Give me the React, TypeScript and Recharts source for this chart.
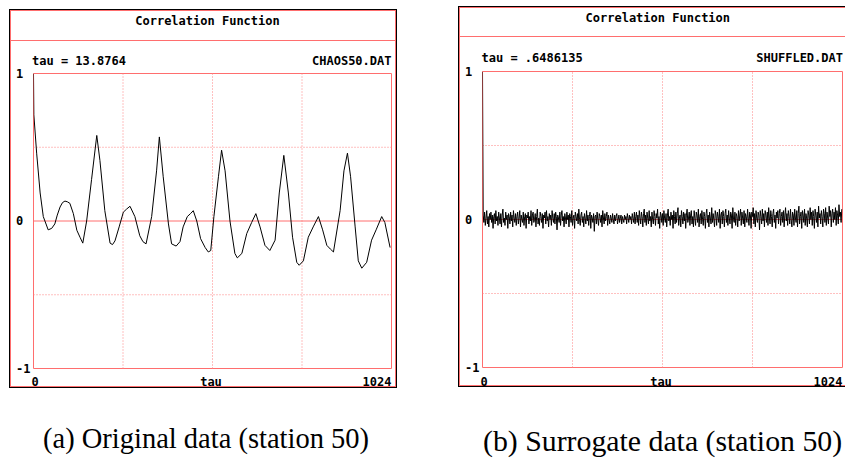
import React from 'react';
import { LineChart, Line, XAxis, YAxis, ReferenceLine, ReferenceArea } from 'recharts';

// Panel (a): correlation function of the original data
const TAU_A = [0, 1, 9, 19, 28, 42, 52, 61, 68, 76, 83, 90, 97, 104, 114, 124, 133, 141, 152, 166, 181, 190, 204, 219, 226, 233, 245, 257, 266, 276, 290, 304, 313, 322, 338, 352, 360, 371, 386, 395, 408, 419, 428, 440, 449, 457, 467, 478, 491, 500, 507, 516, 529, 538, 548, 562, 576, 583, 596, 610, 624, 636, 648, 662, 676, 691, 703, 716, 729, 741, 753, 760, 772, 786, 800, 815, 827, 839, 849, 858, 877, 888, 898, 907, 920, 929, 939, 953, 967, 980, 996, 1005, 1020];
const CORR_A = [1.0, 0.72, 0.46, 0.19, 0.03, -0.06, -0.05, -0.02, 0.04, 0.095, 0.125, 0.135, 0.13, 0.12, 0.05, -0.063, -0.11, -0.15, 0, 0.28, 0.58, 0.41, 0.07, -0.15, -0.16, -0.135, -0.04, 0.06, 0.08, 0.10, 0.03, -0.10, -0.14, -0.155, 0.03, 0.34, 0.57, 0.30, -0.02, -0.155, -0.17, -0.14, -0.04, 0.03, 0.05, 0.07, 0, -0.12, -0.18, -0.21, -0.20, 0.03, 0.30, 0.48, 0.34, 0, -0.22, -0.25, -0.22, -0.085, -0.01, 0.05, -0.04, -0.165, -0.20, -0.13, 0.19, 0.445, 0.19, -0.11, -0.28, -0.30, -0.27, -0.11, -0.04, 0.03, -0.06, -0.165, -0.19, -0.21, 0.07, 0.34, 0.46, 0.30, -0.04, -0.27, -0.32, -0.28, -0.13, -0.06, 0.03, -0.01, -0.18];

// Panel (b): correlation function of the shuffled (surrogate) data, lag step 2
const TAU_STEP_B = 2;
const CORR_B = [
  1.0,
  0.03, -0.02, 0.05, -0.04, 0.01, 0.06, -0.03, 0.02, -0.05, 0.04, 0.00, 0.05, -0.02, 0.03, -0.06, 0.02, 0.04, -0.03, 0.06, -0.01,
  0.02, -0.04, 0.05, 0.01, -0.03, 0.04, -0.05, 0.03, 0.07, -0.02, 0.01, -0.04, 0.05, 0.00, 0.03, -0.06, 0.04, 0.02, -0.03, 0.05,
  -0.01, 0.03, -0.05, 0.06, 0.01, -0.02, 0.04, -0.04, 0.02, 0.05, -0.03, 0.01, 0.06, -0.05, 0.03, 0.00, -0.02, 0.05, -0.04, 0.02,
  0.04, -0.06, 0.03, 0.01, 0.05, -0.03, 0.02, -0.01, 0.06, -0.04, 0.03, 0.05, -0.02, 0.00, 0.04, -0.05, 0.02, 0.07, -0.03, 0.01,
  -0.04, 0.05, 0.02, -0.02, 0.04, -0.06, 0.03, 0.01, 0.05, -0.03, 0.06, -0.01, 0.02, -0.05, 0.04, 0.00, 0.03, -0.04, 0.06, 0.01,
  -0.02, 0.04, -0.03, 0.05, 0.02, -0.07, 0.03, 0.01, -0.02, 0.05, -0.04, 0.03, 0.06, -0.01, 0.02, -0.05, 0.04, 0.01, -0.03, 0.05,
  0.00, 0.03, -0.05, 0.04, 0.02, -0.02, 0.06, -0.04, 0.01, 0.03, -0.06, 0.05, 0.02, -0.01, 0.04, -0.03, 0.07, 0.00, -0.04, 0.03,
  0.05, -0.02, 0.02, -0.05, 0.04, 0.01, -0.03, 0.06, -0.01, 0.03, -0.04, 0.02, 0.05, -0.06, 0.03, 0.01, -0.02, 0.04, -0.08, 0.02,
  0.03, -0.03, 0.05, 0.00, -0.04, 0.04, 0.02, -0.02, 0.03, -0.05, 0.06, 0.01, -0.03, 0.04, -0.01, 0.02, 0.05, -0.04, 0.03, 0.00,
  -0.03, 0.03, 0.01, -0.02, 0.04, 0.00, -0.03, 0.03, -0.01, 0.02, 0.04, -0.03, 0.00, 0.03, -0.02, 0.01, 0.03, -0.03, 0.02, 0.00,
  -0.02, 0.03, 0.00, 0.02, -0.03, 0.04, 0.01, -0.02, 0.03, 0.00, 0.02, -0.03, 0.04, 0.01, -0.02, 0.05, -0.03, 0.02, 0.05, -0.02,
  0.03, -0.04, 0.06, 0.01, -0.03, 0.05, 0.02, -0.05, 0.04, 0.07, -0.02, 0.03, -0.04, 0.05, 0.01, -0.03, 0.06, -0.01, 0.02, -0.05,
  0.05, 0.00, -0.03, 0.06, 0.02, -0.04, 0.04, 0.01, 0.07, -0.03, 0.02, -0.06, 0.05, 0.03, -0.02, 0.04, -0.04, 0.06, 0.01, -0.02,
  0.04, -0.05, 0.03, 0.07, -0.01, 0.02, -0.04, 0.05, 0.00, 0.03, -0.06, 0.06, 0.02, -0.03, 0.05, -0.02, 0.04, 0.08, -0.04, 0.01,
  0.03, -0.05, 0.06, 0.02, -0.03, 0.05, -0.01, 0.04, -0.06, 0.03, 0.07, -0.02, 0.01, 0.05, -0.04, 0.03, 0.06, -0.03, 0.02, -0.05,
  0.06, 0.01, -0.04, 0.05, 0.03, -0.02, 0.07, -0.05, 0.02, 0.04, -0.03, 0.06, 0.00, -0.04, 0.05, 0.02, -0.06, 0.04, 0.07, -0.02,
  0.03, -0.05, 0.05, 0.01, -0.03, 0.08, -0.02, 0.04, 0.00, -0.05, 0.06, 0.03, -0.04, 0.05, 0.02, -0.02, 0.07, -0.06, 0.03, 0.05,
  -0.03, 0.06, 0.02, -0.05, 0.04, 0.07, -0.02, 0.03, -0.04, 0.06, 0.01, -0.03, 0.05, 0.03, -0.06, 0.08, 0.00, -0.02, 0.05, -0.04,
  0.04, 0.02, -0.05, 0.06, -0.01, 0.03, 0.07, -0.04, 0.05, 0.01, -0.03, 0.06, -0.05, 0.04, 0.02, -0.02, 0.07, 0.01, -0.04, 0.05,
  0.03, -0.06, 0.05, 0.02, 0.08, -0.03, 0.04, -0.05, 0.06, 0.01, -0.02, 0.05, 0.03, -0.07, 0.06, 0.02, -0.03, 0.07, -0.01, 0.04,
  -0.05, 0.06, 0.03, -0.02, 0.05, -0.04, 0.08, 0.01, -0.03, 0.06, 0.02, -0.05, 0.04, 0.07, -0.02, 0.03, -0.06, 0.05, 0.01, 0.06,
  -0.03, 0.04, 0.07, -0.04, 0.02, 0.05, -0.02, 0.06, -0.05, 0.03, 0.08, -0.01, 0.04, -0.04, 0.06, 0.02, -0.03, 0.07, 0.00, -0.05,
  0.05, 0.03, -0.04, 0.07, 0.01, -0.02, 0.06, -0.05, 0.04, 0.09, -0.03, 0.02, 0.05, -0.06, 0.06, 0.03, -0.02, 0.07, -0.04, 0.04,
  0.01, -0.05, 0.06, 0.03, -0.03, 0.08, 0.00, 0.05, -0.04, 0.06, 0.02, -0.06, 0.07, 0.03, -0.02, 0.05, -0.05, 0.09, 0.01, 0.04,
  -0.03, 0.06, 0.02, -0.05, 0.07, 0.04, -0.02, 0.08, -0.04, 0.05, 0.01, -0.03, 0.09, 0.02, 0.06, -0.05, 0.04, 0.07, -0.02, 0.05,
  0.00, 0.08, -0.04, 0.06, 0.03, -0.03, 0.10, 0.02, 0.05, -0.02, 0.07,
];

const X_TICKS = [0, 512, 1024];
const X_TICK_LABELS = ['0', 'tau', '1024'];
const Y_TICKS = [1, 0, -1];
const GRID_X = [256, 512, 768];
const GRID_Y = [0.5, -0.5];

const dataA = TAU_A.map((t, i) => ({ tau: t, v: CORR_A[i] }));
const dataB = CORR_B.map((v, i) => ({ tau: i * TAU_STEP_B, v }));

const MONO = '"DejaVu Sans Mono", monospace';
const RED = '#ff6e6e';
const PINK = '#ff8080';

type PanelProps = {
  data: { tau: number; v: number }[];
  left: number;
  top: number;
  width: number;
  height: number;
  marginTop: number;
  marginBottom: number;
  xLabelDy: number;
};

function Panel({ data, left, top, width, height, marginTop, marginBottom, xLabelDy }: PanelProps) {
  const plotBottom = height - 16 - marginBottom;
  const YTick = (p: any) => (
    <text x={6} y={p.y} dominantBaseline="central" textAnchor="start" fontFamily={MONO} fontWeight="bold" fontSize={12} fill="#000">
      {String(p.payload.value)}
    </text>
  );
  const XTick = (p: any) => {
    const idx = X_TICKS.indexOf(p.payload.value);
    const anchor = idx === 0 ? 'start' : idx === 2 ? 'end' : 'middle';
    const dx = idx === 0 ? -2 : idx === 1 ? -1.5 : 0;
    return (
      <text x={p.x + dx} y={plotBottom + xLabelDy} dominantBaseline="central" textAnchor={anchor} fontFamily={MONO} fontWeight="bold" fontSize={12} fill="#000">
        {X_TICK_LABELS[idx]}
      </text>
    );
  };
  return (
    <div style={{ position: 'absolute', left, top, width, height }}>
      <LineChart width={width} height={height} data={data} margin={{ top: marginTop, right: 3.5, bottom: marginBottom, left: 3.5 }}>
        <XAxis dataKey="tau" type="number" domain={[0, 1024]} ticks={X_TICKS} interval={0} axisLine={false} tickLine={false} height={16} tick={XTick} allowDataOverflow />
        <YAxis type="number" domain={[-1, 1]} ticks={Y_TICKS} interval={0} axisLine={false} tickLine={false} width={20} tick={YTick} allowDataOverflow />
        {GRID_X.map((g) => (
          <ReferenceLine key={'gx' + g} x={g} stroke={PINK} strokeDasharray="1 2" strokeWidth={1} />
        ))}
        {GRID_Y.map((g) => (
          <ReferenceLine key={'gy' + g} y={g} stroke={PINK} strokeDasharray="1 2" strokeWidth={1} />
        ))}
        <ReferenceLine y={0} stroke={RED} strokeWidth={1} />
        <ReferenceArea x1={0} x2={1024} y1={-1} y2={1} fill="none" stroke={RED} strokeWidth={1} ifOverflow="visible" />
        <Line dataKey="v" type="linear" stroke="#000" strokeWidth={1} dot={false} isAnimationActive={false} />
      </LineChart>
    </div>
  );
}

export default function App() {
  const txt = { fontFamily: MONO, fontWeight: 'bold' as const, fontSize: 12, fill: '#000' };
  return (
    <div style={{ position: 'fixed', left: 0, top: 0, width: 845, height: 463, overflow: 'hidden', background: '#fff' }}>
      <svg width={845} height={463} style={{ position: 'absolute', left: 0, top: 0 }}>
        {/* panel (a) frame */}
        <rect x={9.5} y={9.5} width={387} height={378} fill="#fff" stroke="#000" strokeWidth={1} />
        <rect x={10.5} y={10.5} width={385} height={376} fill="none" stroke={RED} strokeWidth={1} />
        <line x1={10} x2={396} y1={40.5} y2={40.5} stroke={RED} strokeWidth={1} />
        <text x={207.5} y={21} textAnchor="middle" dominantBaseline="central" {...txt}>Correlation Function</text>
        <text x={32} y={61} textAnchor="start" dominantBaseline="central" {...txt}>tau = 13.8764</text>
        <text x={391.5} y={61} textAnchor="end" dominantBaseline="central" {...txt}>CHAOS50.DAT</text>
        {/* panel (b) frame */}
        <rect x={458.5} y={6.5} width={390} height={380} fill="#fff" stroke="#000" strokeWidth={1} />
        <rect x={459.5} y={7.5} width={388} height={378} fill="none" stroke={RED} strokeWidth={1} />
        <line x1={459} x2={848} y1={36.5} y2={36.5} stroke={RED} strokeWidth={1} />
        <text x={657.8} y={17.7} textAnchor="middle" dominantBaseline="central" {...txt}>Correlation Function</text>
        <text x={481.5} y={58.3} textAnchor="start" dominantBaseline="central" {...txt}>tau = .6486135</text>
        <text x={843} y={58.3} textAnchor="end" dominantBaseline="central" {...txt}>SHUFFLED.DAT</text>
        {/* captions */}
        <text x={43} y={448.3} fontFamily='"Liberation Serif", "Times New Roman", serif' fontSize={28.5} fill="#000">(a) Original data (station 50)</text>
        <text x={483} y={450.7} fontFamily='"Liberation Serif", "Times New Roman", serif' fontSize={29.8} fill="#000">(b) Surrogate data (station 50)</text>
      </svg>
      <Panel data={dataA} left={10} top={41} width={385} height={356} marginTop={32.5} marginBottom={12.5} xLabelDy={13} />
      <Panel data={dataB} left={459} top={37} width={387} height={359} marginTop={34.5} marginBottom={12.5} xLabelDy={14.5} />
    </div>
  );
}
